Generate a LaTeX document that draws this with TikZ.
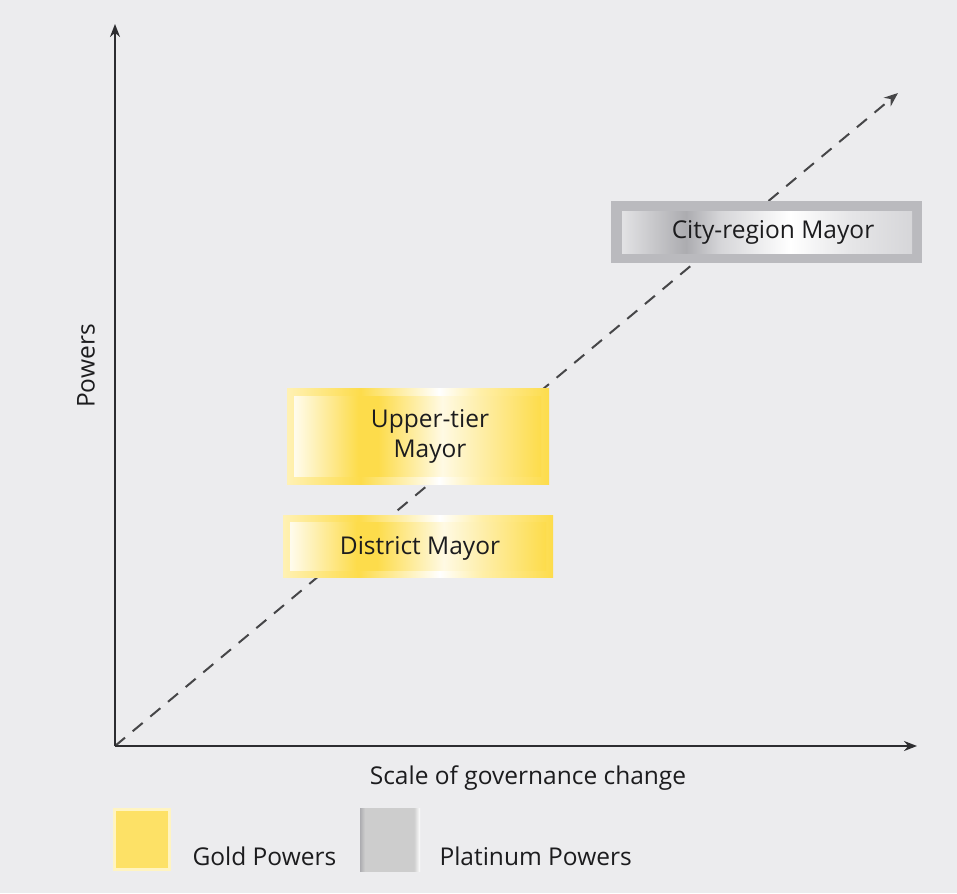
\documentclass[tikz,border=0pt]{standalone}
\usepackage{fontspec}
\setmainfont{Open Sans}
\usetikzlibrary{arrows.meta}
\definecolor{bg}{RGB}{236,236,238}
\definecolor{axis}{RGB}{45,45,48}
\definecolor{dash}{RGB}{70,70,72}
\definecolor{txt}{RGB}{28,28,30}
\definecolor{gold}{RGB}{253,220,75}
\definecolor{goldlt}{RGB}{255,232,130}
\definecolor{platframe}{RGB}{186,186,190}
\definecolor{platdk}{RGB}{172,172,176}
\definecolor{platmd}{RGB}{214,214,217}
\definecolor{platlg}{RGB}{205,205,205}
\pgfdeclarehorizontalshading{goldouter}{100bp}{color(0bp)=(white); color(25bp)=(goldlt!60!white); color(39bp)=(gold); color(54bp)=(white); color(62bp)=(goldlt!70!white); color(75bp)=(gold); color(100bp)=(gold)}
\pgfdeclarehorizontalshading{goldinner}{100bp}{color(0bp)=(white); color(25bp)=(white!90!gold); color(38bp)=(gold); color(42bp)=(gold); color(55bp)=(white!85!gold); color(75bp)=(gold); color(100bp)=(gold)}
\pgfdeclarehorizontalshading{platinner}{100bp}{color(0bp)=(platmd); color(25bp)=(platmd!70!white); color(36bp)=(platdk); color(42bp)=(platmd); color(54bp)=(white); color(64bp)=(platmd!60!white); color(75bp)=(platmd); color(100bp)=(platmd)}
\pgfdeclarehorizontalshading{platleg}{100bp}{color(0bp)=(platdk); color(25bp)=(platdk); color(29bp)=(platlg); color(70bp)=(platlg); color(75bp)=(white); color(100bp)=(white)}
\tikzset{
  axisline/.style={draw=axis, line width=2.4pt, -{Stealth[length=13pt,width=10pt]}},
  dashline/.style={draw=dash, line width=2pt, dash pattern=on 13pt off 10pt, -{Stealth[length=14pt,width=11pt]}},
  lbl/.style={text=txt, font=\fontsize{24.5}{30}\selectfont, align=center},
}
\begin{document}
\begin{tikzpicture}[x=1pt,y=-1pt]
\fill[bg] (0,0) rectangle (957,893);
\useasboundingbox (0,0) rectangle (957,893);
% axes
\coordinate (O) at (115,746);
\coordinate (ytop) at (115,24);
\coordinate (xend) at (917,746);
\coordinate (dend) at (898,93);
\draw[dashline] (O) -- (dend);
\draw[axisline] (O) -- (ytop);
\draw[axisline] (O) -- (xend);
% boxes
\shade[shading=goldouter] (287,388) rectangle (549,484);
\shade[shading=goldinner] (294,396) rectangle (541,476);
\node[lbl] (upper) at (430,436) {Upper-tier\\Mayor};
\shade[shading=goldouter] (283,515) rectangle (553,577);
\shade[shading=goldinner] (290,522) rectangle (546,570);
\node[lbl] (district) at (420,548) {District Mayor};
\fill[platframe] (611,201) rectangle (922,263);
\shade[shading=platinner] (622,212) rectangle (912,253);
\node[lbl] (city) at (773,232) {City-region Mayor};
% axis labels
\node[lbl, rotate=90] (powers) at (86,366) {Powers};
\node[lbl] (scale) at (528,778) {Scale of governance change};
% legend
\fill[goldlt!50!white] (113,808) rectangle (171,871);
\fill[gold!85!white] (116,811) rectangle (168,868);
\node[lbl, anchor=base west] (goldleg) at (189,865) {Gold Powers};
\shade[shading=platleg] (360,808) rectangle (420,871);
\fill[platlg] (366,814) rectangle (414,864);
\node[lbl, anchor=base west] (platleg) at (436,865) {Platinum Powers};
\end{tikzpicture}
\end{document}
